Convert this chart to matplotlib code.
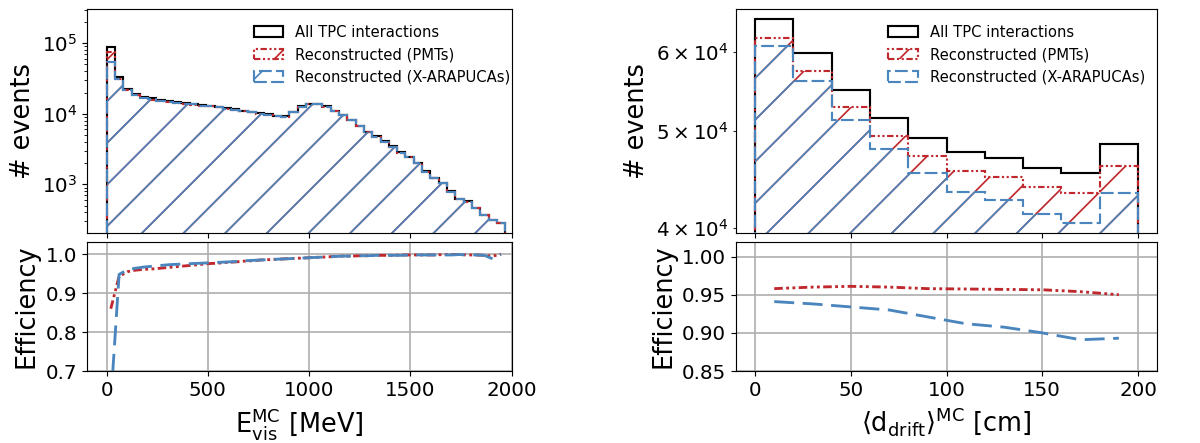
import numpy as np
import matplotlib
matplotlib.use('Agg')
import matplotlib.pyplot as plt

# figure was rendered small at high dpi -> scale every size by S
S = 0.41

# ---- left: visible energy, 41 MeV bins
E_WIDTH = 41
E_NBINS = 48
e_all = [8.82e4, 3.31e4, 2.24e4, 1.90e4, 1.74e4, 1.65e4, 1.58e4, 1.53e4, 1.48e4, 1.43e4,
         1.39e4, 1.34e4, 1.30e4, 1.26e4, 1.20e4, 1.16e4, 1.11e4, 1.07e4, 1.02e4, 9.9e3,
         9.4e3, 9.2e3, 1.06e4, 1.27e4, 1.39e4, 1.37e4, 1.27e4, 1.11e4, 9.7e3, 8.2e3,
         6.8e3, 5.6e3, 4.77e3, 4.05e3, 3.44e3, 2.83e3, 2.43e3, 2.0e3, 1.52e3, 1.22e3,
         1.04e3, 791, 616, 571, 459, 369, 313, 281]
e_eff_pmt = [0.86, 0.943, 0.955, 0.959, 0.961, 0.962, 0.964, 0.966, 0.968, 0.970,
             0.972, 0.974, 0.976, 0.977, 0.979, 0.980, 0.982, 0.983, 0.985, 0.986,
             0.987, 0.988, 0.989, 0.990, 0.991, 0.992, 0.993, 0.994, 0.995, 0.995,
             0.996, 0.996, 0.997, 0.997, 0.997, 0.998, 0.998, 0.998, 0.998, 0.998,
             0.999, 0.999, 0.999, 0.998, 0.998, 0.997, 0.995, 1.0]
e_eff_xa = [0.62, 0.948, 0.960, 0.964, 0.967, 0.969, 0.971, 0.973, 0.974, 0.975,
            0.976, 0.977, 0.978, 0.979, 0.980, 0.981, 0.983, 0.984, 0.985, 0.986,
            0.987, 0.988, 0.989, 0.990, 0.991, 0.992, 0.993, 0.994, 0.995, 0.995,
            0.996, 0.996, 0.997, 0.997, 0.997, 0.997, 0.998, 0.998, 0.998, 0.998,
            0.998, 0.998, 0.999, 0.998, 0.998, 0.997, 0.988, 1.0]

# ---- right: mean drift distance, 20 cm bins
D_WIDTH = 20
D_NBINS = 10
d_all = [6.46e4, 5.98e4, 5.49e4, 5.15e4, 4.92e4, 4.76e4, 4.70e4, 4.59e4, 4.54e4, 4.85e4]
d_eff_pmt = [0.958, 0.960, 0.961, 0.960, 0.958, 0.9575, 0.957, 0.9565, 0.954, 0.950]
d_eff_xa = [0.941, 0.938, 0.934, 0.930, 0.921, 0.912, 0.9075, 0.900, 0.891, 0.893]

RED = '#c0282d'
BLUE = '#4a86bd'
LS_PMT = (0, (3, 1.2, 1, 1.2, 1, 1.2))
LS_XA = (0, (6, 2))
LS_XA_EFF = (0, (7, 3))

plt.rcParams.update({
    'font.size': 14 * S,
    'axes.linewidth': 0.8 * S,
    'xtick.major.size': 3.5 * S, 'ytick.major.size': 3.5 * S,
    'xtick.minor.size': 2 * S, 'ytick.minor.size': 2 * S,
    'xtick.major.width': 0.8 * S, 'ytick.major.width': 0.8 * S,
    'xtick.minor.width': 0.6 * S, 'ytick.minor.width': 0.6 * S,
    'xtick.major.pad': 3.5 * S, 'ytick.major.pad': 3.5 * S,
    'ytick.minor.pad': 3.5 * S,
    'xtick.labelsize': 14 * S, 'ytick.labelsize': 14 * S,
    'axes.labelsize': 18 * S, 'axes.labelpad': 4 * S,
    'hatch.linewidth': 1.2 * S,
    'legend.fontsize': 10.4 * S,
    'grid.linewidth': 1.2 * S,
})

fig = plt.figure(figsize=(4.8, 1.772), dpi=250)


def panel(left, width, edges, n_all, eff_pmt, eff_xa, xlim, ylim_top, ylim_bot,
          xlabel, legend_anchor):
    n_all = np.array(n_all)
    n_pmt = n_all * np.array(eff_pmt)
    n_xa = n_all * np.array(eff_xa)
    centers = 0.5 * (edges[:-1] + edges[1:])

    ax = fig.add_axes([left, 0.474, width, 0.506])
    ax.set_yscale('log')
    ax.hist(centers, bins=edges, weights=n_all, histtype='step', color='k',
            lw=1.5 * S, label='All TPC interactions')
    ax.hist(centers, bins=edges, weights=n_pmt, histtype='step', color=RED,
            lw=1.5 * S, ls=LS_PMT, hatch='//', label='Reconstructed (PMTs)')
    ax.hist(centers, bins=edges, weights=n_xa, histtype='step', color=BLUE,
            lw=1.5 * S, ls=LS_XA, hatch='//', label='Reconstructed (X-ARAPUCAs)')
    ax.set_xlim(xlim)
    ax.set_ylim(ylim_top)
    ax.tick_params(labelbottom=False)
    ax.set_ylabel('# events')
    ax.legend(loc='upper right', frameon=False, borderaxespad=0.15,
              bbox_to_anchor=legend_anchor)

    bx = fig.add_axes([left, 0.1625, width, 0.291])
    bx.plot(centers, eff_pmt, color=RED, lw=2 * S, ls=LS_PMT)
    bx.plot(centers, eff_xa, color=BLUE, lw=2 * S, ls=LS_XA_EFF)
    bx.set_xlim(xlim)
    bx.set_ylim(ylim_bot)
    bx.grid(True)
    bx.set_ylabel('Efficiency')
    bx.set_xlabel(xlabel)
    return ax, bx


e_edges = np.arange(E_NBINS + 1) * E_WIDTH
d_edges = np.arange(D_NBINS + 1) * D_WIDTH

ax1, bx1 = panel(0.0725, 0.354, e_edges, e_all, e_eff_pmt, e_eff_xa,
                 (-97, 2001), (204, 3.07e5), (0.7, 1.031),
                 r'$\mathrm{E}_\mathrm{vis}^\mathrm{MC}$ [MeV]', (1.016, 0.965))
bx1.set_yticks([0.7, 0.8, 0.9, 1.0])

ax2, bx2 = panel(0.6133, 0.351, d_edges, d_all, d_eff_pmt, d_eff_xa,
                 (-10, 210), (3.95e4, 6.62e4), (0.85, 1.019),
                 r'$\langle\mathrm{d}_\mathrm{drift}\rangle^\mathrm{MC}$ [cm]', (0.99, 0.965))
bx2.set_yticks([0.85, 0.90, 0.95, 1.00])

fig.savefig('out.png', dpi=250)
